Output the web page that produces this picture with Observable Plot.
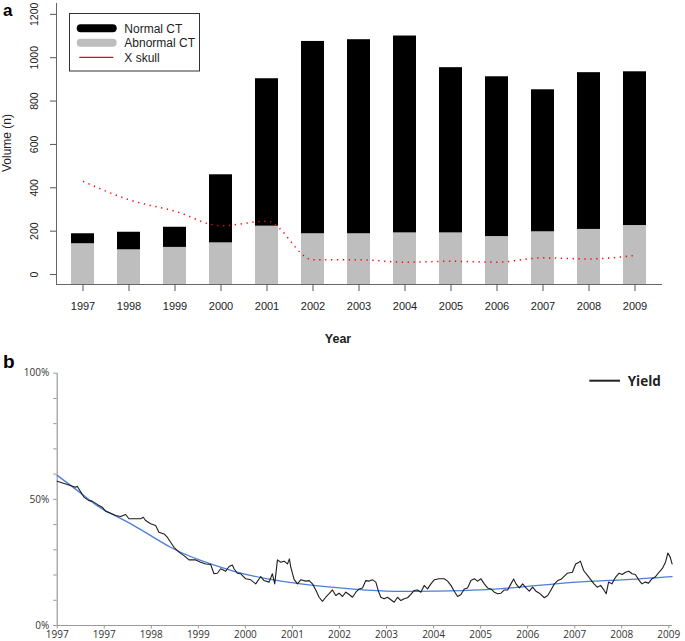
<!DOCTYPE html>
<html><head><meta charset="utf-8">
<script src="https://cdn.jsdelivr.net/npm/d3@7"></script>
<script src="https://cdn.jsdelivr.net/npm/@observablehq/plot@0.6"></script>
<style>
body{margin:0;background:#fff;}
#wrap{position:relative;width:685px;height:641px;overflow:hidden;background:#fff;}
#wrap > div{position:absolute;left:0;}
#overlay{position:absolute;left:0;top:0;pointer-events:none;}
</style></head><body><div id="wrap"><div id="pa" style="top:0"></div><div id="pb" style="top:350px"></div></div>
<script>
// ---------- Panel a data ----------
const years = ["1997","1998","1999","2000","2001","2002","2003","2004","2005","2006","2007","2008","2009"];
const abnormalCT = [142,114,125,146,223,188,188,192,192,175,197,208,226];
const normalCT   = [46,81,93,314,680,887,895,908,762,737,655,723,709];
const xSkull     = [430,345,292,225,246,68,68,57,61,57,77,72,88];
const volumeTicks = [0,200,400,600,800,1000,1200];

// ---------- Panel b data ----------
const yieldTickLabels = ["1997","1997","1998","1999","2000","2001","2002","2003","2004","2005","2006","2007","2008","2009"];
const pctTicks = [0,10,20,30,40,50,60,70,80,90,100];
const yieldIndex = [0,0.213,0.39,0.426,0.567,0.674,0.745,0.851,0.957,1.028,1.135,1.241,1.348,1.454,1.525,1.631,1.773,1.83,1.879,1.986,2.092,2.163,2.27,2.34,2.411,2.482,2.589,2.695,2.801,2.943,3.05,3.156,3.262,3.333,3.404,3.475,3.582,3.652,3.723,3.759,3.83,3.901,4.007,4.113,4.22,4.326,4.397,4.504,4.574,4.624,4.681,4.752,4.823,4.894,4.936,4.965,5.035,5.106,5.177,5.284,5.355,5.426,5.496,5.567,5.638,5.709,5.78,5.851,5.922,5.993,6.064,6.135,6.206,6.277,6.348,6.418,6.489,6.56,6.631,6.702,6.773,6.823,6.879,6.95,7.021,7.092,7.163,7.234,7.305,7.376,7.447,7.518,7.589,7.66,7.73,7.801,7.872,7.943,8.014,8.121,8.227,8.298,8.369,8.44,8.511,8.582,8.652,8.723,8.794,8.865,8.936,9.007,9.078,9.149,9.22,9.291,9.362,9.433,9.504,9.574,9.645,9.702,9.752,9.823,9.894,9.965,10.035,10.106,10.177,10.248,10.355,10.426,10.496,10.567,10.638,10.709,10.84,10.95,11.02,11.09,11.12,11.19,11.30,11.41,11.48,11.55,11.62,11.67,11.72,11.79,11.87,11.94,12.01,12.08,12.15,12.22,12.29,12.36,12.43,12.50,12.57,12.64,12.71,12.79,12.86,12.93,12.98,13.03,13.07];
const yieldPct = [57.2,55.9,54.8,55.2,50.9,49.5,49.3,48.0,46.9,45.3,44.5,43.6,43.2,44.0,42.3,42.3,42.3,42.9,41.6,40.3,39.6,37.0,36.3,35.0,33.0,31.0,29.1,27.7,26.0,26.0,25.1,24.4,24.2,20.5,20.7,22.5,21.5,23.4,24.0,22.5,20.7,20.5,18.5,18.1,16.5,19.4,17.8,17.2,20.5,16.5,26.0,25.1,25.5,24.4,26.4,23.1,18.3,16.5,18.1,17.6,17.8,16.5,14.1,11.2,9.6,11.2,12.6,14.1,11.9,12.8,11.5,13.2,12.3,11.2,13.2,14.5,14.9,17.8,17.6,18.1,17.2,13.9,11.2,10.6,11.2,10.2,9.2,11.2,9.9,10.6,11.0,12.3,13.9,14.1,13.2,15.9,14.5,16.5,18.1,18.5,18.5,17.6,15.9,13.6,11.5,12.3,14.5,14.9,17.8,18.5,17.6,18.5,16.5,14.9,14.5,13.2,12.6,12.8,14.1,14.1,16.5,18.4,16.5,14.9,16.5,14.9,13.6,15.2,13.6,12.8,11.0,11.9,14.1,16.5,17.8,18.3,20.7,21.1,24.4,25.1,25.5,21.8,19.2,16.5,15.2,15.9,14.1,12.6,17.2,16.5,19.2,20.7,20.2,21.1,21.5,20.5,20.2,18.1,16.5,17.2,16.8,18.5,19.2,21.1,22.5,25.1,28.7,27.1,24.4];
const trendIndex = [0,0.567,0.957,1.63,2.41,3.05,3.76,4.47,5.18,6.01,7.0,8.0,9.0,10.0,11.03,12.0,13.07];
const trendPct   = [59.5,51.5,46.2,39.6,31.0,25.8,21.5,18.5,16.5,14.9,13.6,13.6,14.1,15.5,17.2,18.1,19.4];

// ---------- Panel a ----------
const volDomain = [-46, 1250];
const barRows = [];
years.forEach((y, i) => {
  barRows.push({year: y, series: "Abnormal CT", lo: volDomain[0], hi: abnormalCT[i]});
  barRows.push({year: y, series: "Normal CT", lo: abnormalCT[i], hi: abnormalCT[i] + normalCT[i]});
});
const skullRows = years.map((y, i) => ({year: y, v: xSkull[i]}));

const plotA = Plot.plot({
  width: 685, height: 320,
  marginLeft: 56, marginRight: 24, marginTop: 3, marginBottom: 36,
  style: {fontFamily: "'Liberation Sans', Arial, sans-serif", fontSize: "11px", color: "#222", background: "transparent", overflow: "visible"},
  x: {type: "band", domain: years, paddingInner: 0.5, paddingOuter: 0.22, axis: null},
  y: {domain: volDomain, axis: null},
  marks: [
    Plot.rectY(barRows, {x: "year", y1: "lo", y2: "hi", fill: d => d.series === "Normal CT" ? "#000000" : "#bebebe"}),
    Plot.lineY(skullRows, {x: "year", y: "v", stroke: "#ff0000", strokeWidth: 1.5, strokeDasharray: "1.3 4.6", strokeLinecap: "butt", curve: "monotone-x"}),
    Plot.frame({anchor: "left", stroke: "#666"}),
    Plot.frame({anchor: "bottom", stroke: "#666"}),
    Plot.axisY({ticks: volumeTicks, tickSize: 6, tickFormat: () => "", stroke: "#555"}),
    Plot.text(volumeTicks, {y: d => d, text: d => String(d), frameAnchor: "left", dx: -22, rotate: -90, textAnchor: "middle", lineAnchor: "middle", fontSize: 10.5, fill: "#222"}),
    Plot.axisX({tickSize: 7, tickPadding: 11, fontSize: 11, stroke: "#555", fill: "#222", label: null})
  ]
});
document.getElementById("pa").appendChild(plotA);

// ---------- Panel b ----------
const yieldRows = yieldIndex.map((t, i) => ({t, v: yieldPct[i]}));
const trendRows = trendIndex.map((t, i) => ({t, v: trendPct[i]}));
const plotB = Plot.plot({
  width: 685, height: 291,
  marginLeft: 56.7, marginRight: 16.7, marginTop: 22.7, marginBottom: 16,
  style: {fontFamily: "'Open Sans', 'Noto Sans', sans-serif", fontSize: "10px", color: "#333", background: "transparent", overflow: "visible"},
  x: {domain: [0, 13], axis: null},
  y: {domain: [0, 100], axis: null},
  marks: [
    Plot.ruleY([0], {x1: 0, x2: 13.08, stroke: "#9a9a9a", strokeWidth: 1.2}),
    Plot.ruleX([0], {y1: 0, y2: 100, stroke: "#9a9a9a", strokeWidth: 1.2}),
    Plot.axisY({ticks: pctTicks, tickSize: 3.5, tickPadding: 4.5, tickFormat: d => d % 50 === 0 ? d + "%" : "", stroke: "#9a9a9a", fill: "#333", fontSize: 10, label: null}),
    Plot.axisX({ticks: yieldTickLabels.map((_, i) => i), tickSize: 3.5, tickPadding: 2, tickFormat: i => yieldTickLabels[i], stroke: "#9a9a9a", fill: "#333", fontSize: 10, label: null}),
    Plot.line(trendRows, {x: "t", y: "v", stroke: "#4a7fd8", strokeWidth: 1.3, curve: "natural"}),
    Plot.line(yieldRows, {x: "t", y: "v", stroke: "#1e1e1e", strokeWidth: 1.1})
  ]
});
document.getElementById("pb").appendChild(plotB);

// ---------- Overlay: panel letters, axis titles, legends ----------
const ov = d3.select("#wrap").append("svg").attr("id", "overlay").attr("width", 685).attr("height", 641);
const sans = "'Liberation Sans', Arial, sans-serif";
ov.append("text").attr("x", 3).attr("y", 15.5).attr("font-family", sans).attr("font-weight", "bold").attr("font-size", 17).text("a");
ov.append("text").attr("x", 3).attr("y", 368).attr("font-family", sans).attr("font-weight", "bold").attr("font-size", 19).text("b");
ov.append("text").attr("transform", "translate(10.5,143) rotate(-90)").attr("text-anchor", "middle").attr("font-family", sans).attr("font-size", 12).attr("fill", "#222").text("Volume (n)");
ov.append("text").attr("x", 338).attr("y", 343).attr("text-anchor", "middle").attr("font-family", sans).attr("font-weight", "bold").attr("font-size", 12.5).attr("fill", "#222").text("Year");

// legend a
const lg = ov.append("g");
lg.append("rect").attr("x", 69.5).attr("y", 13.5).attr("width", 130).attr("height", 57.5).attr("fill", "#fff").attr("stroke", "#333").attr("stroke-width", 1);
const legItems = [
  {label: "Normal CT", color: "#000", w: 8, cap: "round"},
  {label: "Abnormal CT", color: "#bebebe", w: 8, cap: "round"},
  {label: "X skull", color: "#ff0000", w: 1.3, cap: "butt"}
];
legItems.forEach((it, i) => {
  const cy = 28.3 + i * 14.5;
  lg.append("line").attr("x1", it.cap === "round" ? 80.7 : 79.3).attr("x2", it.cap === "round" ? 112.7 : 113.3)
    .attr("y1", cy).attr("y2", cy).attr("stroke", it.color).attr("stroke-width", it.w).attr("stroke-linecap", it.cap);
  lg.append("text").attr("x", 124.3).attr("y", cy + 4.3).attr("font-family", sans).attr("font-size", 12).attr("fill", "#222").text(it.label);
});

// legend b
ov.append("line").attr("x1", 589.3).attr("x2", 620).attr("y1", 380.7).attr("y2", 380.7).attr("stroke", "#222").attr("stroke-width", 2);
ov.append("text").attr("x", 627.7).attr("y", 385.5).attr("font-family", "'Open Sans', sans-serif").attr("font-weight", "bold").attr("font-size", 13.5).attr("fill", "#222").text("Yield");
</script></body></html>
